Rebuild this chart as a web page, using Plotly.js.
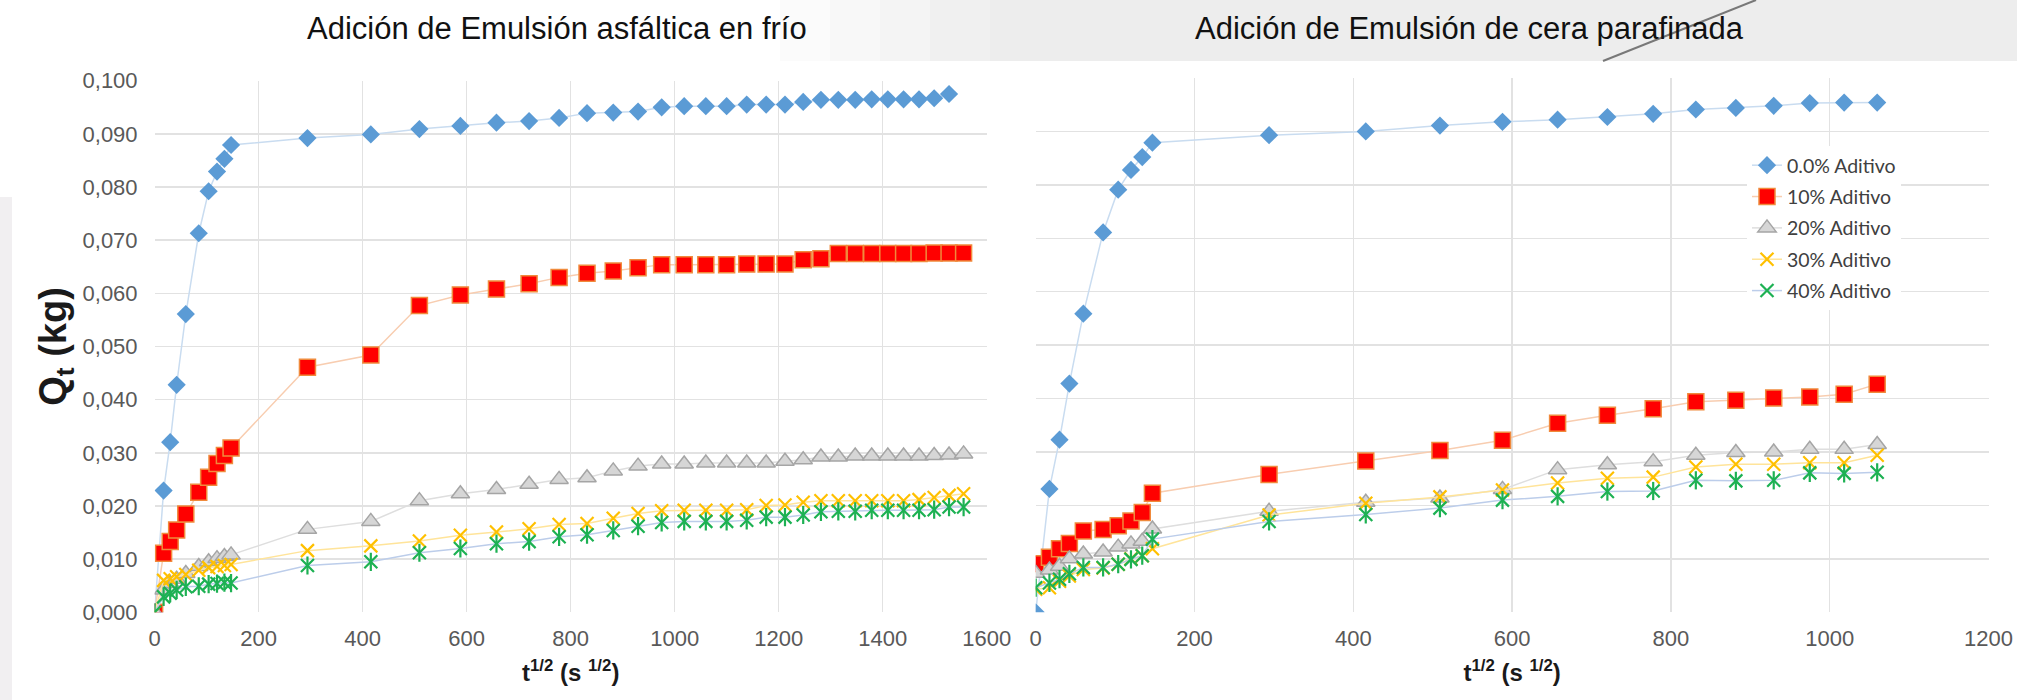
<!DOCTYPE html>
<html>
<head>
<meta charset="utf-8">
<script src="https://cdn.plot.ly/plotly-3.0.1.min.js"></script>
<style>
  html, body { margin: 0; padding: 0; background: #ffffff; }
  #chart { width: 2017px; height: 700px; }
</style>
</head>
<body>
<div id="chart"></div>
<script>
// Square root of elapsed time, s^1/2 (first 10 readings in hours, then one per day)
const tAsfaltica = [0, 17.3, 30, 42.4, 60, 84.9, 103.9, 120, 134.2, 147,
  293.9, 415.7, 509.1, 587.9, 657.3, 720, 777.7, 831.4, 881.8, 929.5,
  974.9, 1018.2, 1059.8, 1099.8, 1138.4, 1175.8, 1212, 1247, 1281.1, 1314.5,
  1347, 1378.7, 1409.7, 1440, 1469.7, 1498.8, 1527.4, 1555.4];
const tCera = [0, 17.3, 30, 42.4, 60, 84.9, 103.9, 120, 134.2, 147,
  293.9, 415.7, 509.1, 587.9, 657.3, 720, 777.7, 831.4, 881.8, 929.5,
  974.9, 1018.2, 1059.8];

// Absorbed water Qt (kg) – cold asphalt emulsion
const asf00 = [0, 0.0229, 0.0320, 0.0428, 0.0561, 0.0713, 0.0792, 0.0829, 0.0853, 0.0879,
  0.0892, 0.0899, 0.0909, 0.0915, 0.0921, 0.0924, 0.0930, 0.0939, 0.0940, 0.0942,
  0.0950, 0.0952, 0.0952, 0.0952, 0.0955, 0.0955, 0.0955, 0.0960, 0.0964, 0.0964,
  0.0964, 0.0965, 0.0965, 0.0965, 0.0965, 0.0967, 0.0975];
const asf10 = [0, 0.0111, 0.0133, 0.0155, 0.0185, 0.0226, 0.0254, 0.0280, 0.0295, 0.0309,
  0.0461, 0.0484, 0.0577, 0.0597, 0.0608, 0.0618, 0.0630, 0.0638, 0.0642, 0.0648,
  0.0654, 0.0654, 0.0654, 0.0654, 0.0655, 0.0655, 0.0655, 0.0663, 0.0665, 0.0675,
  0.0675, 0.0675, 0.0675, 0.0675, 0.0675, 0.0676, 0.0676, 0.0676];
const asf20 = [0, 0.0042, 0.0054, 0.0062, 0.0073, 0.0086, 0.0095, 0.0101, 0.0105, 0.0108,
  0.0156, 0.0171, 0.0210, 0.0223, 0.0231, 0.0241, 0.0250, 0.0253, 0.0266, 0.0275,
  0.0279, 0.0279, 0.0281, 0.0281, 0.0281, 0.0281, 0.0284, 0.0287, 0.0292, 0.0292,
  0.0294, 0.0294, 0.0294, 0.0294, 0.0294, 0.0295, 0.0296, 0.0298];
const asf30 = [0, 0.0060, 0.0063, 0.0067, 0.0071, 0.0079, 0.0084, 0.0086, 0.0088, 0.0090,
  0.0116, 0.0125, 0.0134, 0.0145, 0.0151, 0.0157, 0.0165, 0.0167, 0.0177, 0.0186,
  0.0191, 0.0192, 0.0192, 0.0192, 0.0193, 0.0201, 0.0202, 0.0207, 0.0210, 0.0210,
  0.0210, 0.0210, 0.0210, 0.0210, 0.0212, 0.0216, 0.0220, 0.0223];
const asf40 = [0, 0.0029, 0.0036, 0.0042, 0.0048, 0.0049, 0.0053, 0.0054, 0.0056, 0.0055,
  0.0088, 0.0095, 0.0112, 0.0120, 0.0129, 0.0133, 0.0142, 0.0146, 0.0154, 0.0162,
  0.0169, 0.0171, 0.0171, 0.0171, 0.0173, 0.0179, 0.0179, 0.0183, 0.0189, 0.0190,
  0.0190, 0.0192, 0.0192, 0.0192, 0.0192, 0.0193, 0.0198, 0.0198];

// Absorbed water Qt (kg) – paraffin wax emulsion
const cer00 = [0, 0.0231, 0.0323, 0.0428, 0.0559, 0.0711, 0.0791, 0.0828, 0.0852, 0.0879,
  0.0893, 0.0900, 0.0911, 0.0918, 0.0922, 0.0927, 0.0933, 0.0941, 0.0944, 0.0948,
  0.0953, 0.0954, 0.0954];
const cer10 = [0.0091, 0.0103, 0.0119, 0.0129, 0.0152, 0.0155, 0.0162, 0.0171, 0.0187, 0.0223,
  0.0258, 0.0283, 0.0303, 0.0322, 0.0354, 0.0369, 0.0381, 0.0394, 0.0397, 0.0401,
  0.0403, 0.0408, 0.0427];
const cer20 = [0.0073, 0.0079, 0.0086, 0.0100, 0.0109, 0.0113, 0.0122, 0.0128, 0.0133, 0.0156,
  0.0189, 0.0206, 0.0214, 0.0230, 0.0267, 0.0276, 0.0282, 0.0294, 0.0299, 0.0300,
  0.0305, 0.0305, 0.0314];
const cer30 = [0.0043, 0.0046, 0.0058, 0.0068, 0.0080, 0.0083, 0.0090, 0.0100, 0.0106, 0.0119,
  0.0182, 0.0204, 0.0216, 0.0229, 0.0242, 0.0251, 0.0253, 0.0272, 0.0277, 0.0277,
  0.0280, 0.0280, 0.0294];
const cer40 = [0.0046, 0.0055, 0.0062, 0.0072, 0.0084, 0.0084, 0.0090, 0.0099, 0.0106, 0.0137,
  0.0170, 0.0183, 0.0195, 0.0210, 0.0217, 0.0226, 0.0227, 0.0247, 0.0246, 0.0247,
  0.0261, 0.0260, 0.0262];

const seriesNames = ['0.0% Aditivo', '10% Aditivo', '20% Aditivo', '30% Aditivo', '40% Aditivo'];
const xTickLabelsLeft = ['0', '200', '400', '600', '800', '1000', '1200', '1400', '1600'];

// Excel-like marker styles for each additive level
const styles = [
  { line: '#c9dcf0', marker: { symbol: 'diamond', size: 14, color: '#5b9bd5', line: { width: 0 } } },
  { line: '#f8cdb0', marker: { symbol: 'square', size: 16, color: '#ff0000', line: { width: 1.5, color: '#f08a3c' } } },
  { line: '#dedede', marker: { symbol: 'triangle-up', size: 16, color: '#d6d6d6', line: { width: 1.5, color: '#a5a5a5' } } },
  { line: '#ffe49a', marker: { symbol: 'x-thin-open', size: 13, color: '#ffc000', line: { width: 2.2, color: '#ffc000' } } },
  { line: '#bccdea', marker: { symbol: 'x-thin-open', size: 13, color: '#1db153', line: { width: 2.2, color: '#1db153' } } }
];

const traces = [];
function addSeries(xs, ys, k, xa, ya, legend) {
  const s = styles[k];
  traces.push({
    x: xs, y: ys, xaxis: xa, yaxis: ya, type: 'scatter', mode: 'lines+markers',
    name: seriesNames[k], legendgroup: 'g' + k, showlegend: legend,
    line: { color: s.line, width: 1.5 },
    marker: s.marker, hoverinfo: 'x+y'
  });
  if (k === 4) {
    // vertical stroke that turns the X into the six-armed star marker
    traces.push({
      x: xs, y: ys, xaxis: xa, yaxis: ya, type: 'scatter', mode: 'markers',
      name: seriesNames[k], legendgroup: 'g' + k, showlegend: false,
      marker: { symbol: 'line-ns-open', size: 13, color: '#1db153', line: { width: 2.2, color: '#1db153' } },
      hoverinfo: 'skip'
    });
  }
}

[asf00, asf10, asf20, asf30, asf40].forEach((ys, k) => addSeries(tAsfaltica.slice(0, ys.length), ys, k, 'x', 'y', true));
[cer00, cer10, cer20, cer30, cer40].forEach((ys, k) => addSeries(tCera, ys, k, 'x2', 'y2', false));

const W = 2017, H = 700;
const px = v => v / W;
const py = v => 1 - v / H;

const tickFont = { family: 'Liberation Sans, Arial, sans-serif', size: 22, color: '#595959' };
const gridColor = '#e2e2e2';

const xCommon = {
  dtick: 200, showgrid: true, gridcolor: gridColor, gridwidth: 1.4,
  zeroline: false, showline: false, ticks: '', tickfont: tickFont, ticklabelstandoff: 11,
  title: {
    text: '<b>t<sup>1/2</sup> (s <sup>1/2</sup>)</b>',
    font: { family: 'Liberation Sans, Arial, sans-serif', size: 24, color: '#1a1a1a' },
    standoff: 13
  }
};

// light slide background behind the headings, fading in from the left
const bandSteps = [
  [780, 830, '#fbfbfb'], [830, 880, '#f8f8f8'], [880, 930, '#f4f4f4'],
  [930, 990, '#f0f0f0'], [990, 2017, '#ededed']
];
const shapes = bandSteps.map(([a, b, c]) => ({
  type: 'rect', xref: 'paper', yref: 'paper', x0: px(a), x1: px(b), y0: py(61), y1: 1,
  fillcolor: c, line: { width: 0 }, layer: 'below'
}));
shapes.push(
  { type: 'line', xref: 'paper', yref: 'paper', x0: px(1756), y0: 1, x1: px(1603), y1: py(61),
    line: { color: 'rgba(80,80,80,0.75)', width: 2 }, layer: 'below' },
  { type: 'rect', xref: 'paper', yref: 'paper', x0: 0, x1: px(12), y0: 0, y1: py(197),
    fillcolor: '#f1eff1', line: { width: 0 }, layer: 'below' }
);

const layout = {
  width: W, height: H,
  margin: { l: 0, r: 0, t: 0, b: 0 },
  paper_bgcolor: '#ffffff', plot_bgcolor: 'rgba(0,0,0,0)',
  separators: ',.',
  showlegend: true,
  legend: {
    x: px(1747), y: py(146), xanchor: 'left', yanchor: 'top',
    bgcolor: '#ffffff', borderwidth: 0,
    font: { family: 'Lato, sans-serif', size: 19.5, color: '#404040' },
    traceorder: 'grouped', tracegroupgap: 3
  },
  xaxis: Object.assign({}, xCommon, {
    domain: [px(154.6), px(986.8)], range: [0, 1600], anchor: 'y',
    tickvals: [0, 200, 400, 600, 800, 1000, 1200, 1400, 1600], ticktext: xTickLabelsLeft
  }),
  yaxis: {
    domain: [py(612.3), py(80.7)], range: [0, 0.1], dtick: 0.01, tickformat: '.3f',
    showgrid: true, gridcolor: gridColor, gridwidth: 1.4, zeroline: false, showline: false,
    ticks: '', tickfont: tickFont, ticklabelstandoff: 16, anchor: 'x',
    title: {
      text: '<b>Q<sub>t</sub> (kg)</b>',
      font: { family: 'Liberation Sans, Arial, sans-serif', size: 38, color: '#1a1a1a' },
      standoff: 4
    }
  },
  xaxis2: Object.assign({}, xCommon, {
    domain: [px(1035.7), px(1988.5)], range: [0, 1200], anchor: 'y2'
  }),
  yaxis2: {
    domain: [py(612.3), py(78)], range: [0, 0.1], dtick: 0.01,
    showgrid: true, gridcolor: gridColor, gridwidth: 1.4, zeroline: false, showline: false,
    showticklabels: false, ticks: '', anchor: 'x2'
  },
  annotations: [
    { text: 'Adición de Emulsión asfáltica en frío', xref: 'paper', yref: 'paper',
      x: px(557), y: py(29), xanchor: 'center', yanchor: 'middle', showarrow: false,
      font: { family: 'Liberation Sans, Arial, sans-serif', size: 31, color: '#111111' } },
    { text: 'Adición de Emulsión de cera parafinada', xref: 'paper', yref: 'paper',
      x: px(1469), y: py(29), xanchor: 'center', yanchor: 'middle', showarrow: false,
      font: { family: 'Liberation Sans, Arial, sans-serif', size: 31, color: '#111111' } }
  ],
  shapes: shapes
};

Plotly.newPlot('chart', traces, layout, { displayModeBar: false, staticPlot: true });
</script>
</body>
</html>
